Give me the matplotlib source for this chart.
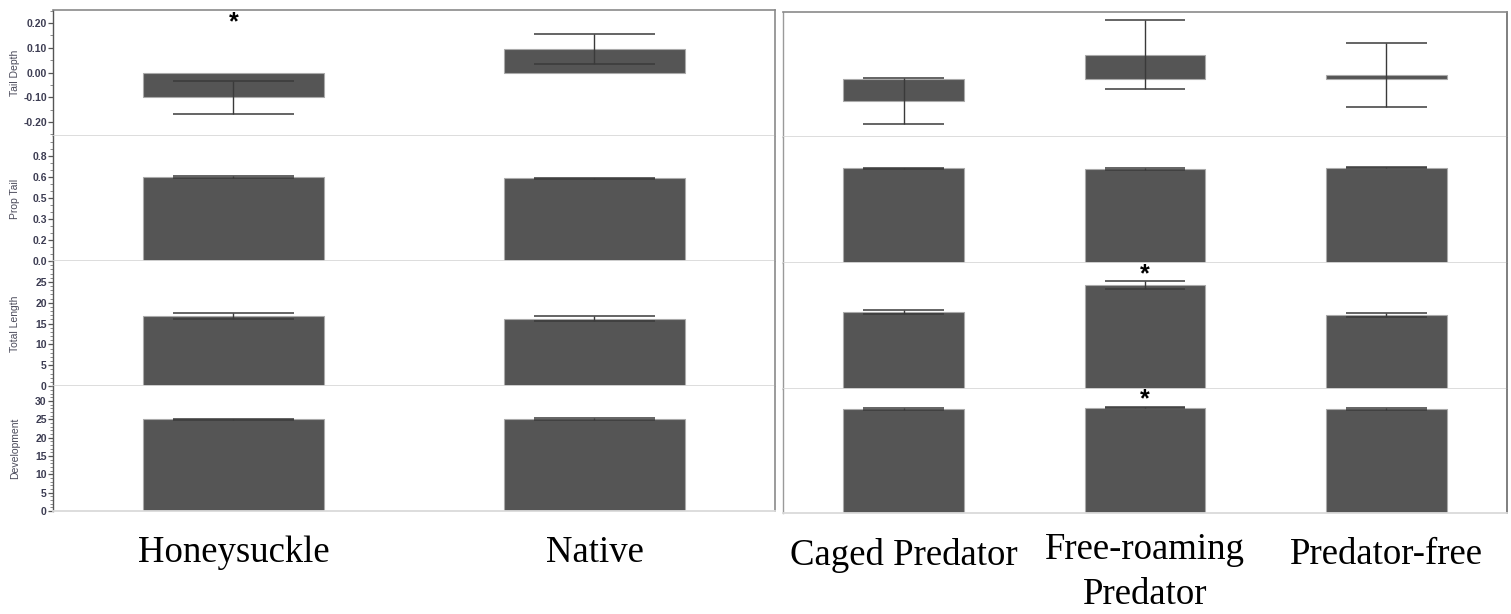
import matplotlib
matplotlib.use("Agg")
import matplotlib.pyplot as plt
from matplotlib.ticker import FixedLocator, MultipleLocator, FormatStrFormatter

# habitat comparison (left block)
habitat = ["Honeysuckle", "Native"]
habitat_tail_depth = [-0.10, 0.095]
habitat_tail_depth_err = [0.066, 0.06]
habitat_prop_tail = [0.601, 0.593]
habitat_prop_tail_err = [0.004, 0.004]
habitat_total_length = [16.9, 16.2]
habitat_total_length_err = [0.7, 0.6]
habitat_development = [25.0, 25.1]
habitat_development_err = [0.15, 0.15]

# predator treatment comparison (right block)
predator = ["Caged Predator", "Free-roaming\nPredator", "Predator-free"]
predator_tail_depth = [-0.09, 0.097, 0.015]
predator_tail_depth_err = [0.095, 0.14, 0.13]
predator_prop_tail = [0.680, 0.676, 0.685]
predator_prop_tail_err = [0.004, 0.004, 0.004]
predator_total_length = [18.3, 24.7, 17.6]
predator_total_length_err = [0.5, 1.0, 0.4]
predator_development = [28.6, 29.0, 28.6]
predator_development_err = [0.15, 0.15, 0.15]

row_names = ["Tail Depth", "Prop Tail", "Total Length", "Development"]

# significance stars: (block, row, category index, y)
stars = [("habitat", 0, 0, 0.204), ("predator", 2, 1, 27.4), ("predator", 3, 1, 31.4)]

BAR = "#555555"
ERR = "#3a3a3a"
FRAME = "#8a8a8a"
SEP = "#dadada"
TICKC = "#3c3c52"

W, H = 1511, 614
fig = plt.figure(figsize=(W / 100, H / 100), dpi=100)


def px_axes(x0, y0, x1, y1):
    return fig.add_axes([x0 / W, 1 - y1 / H, (x1 - x0) / W, (y1 - y0) / H])


def draw_row(ax, means, errs, ncat):
    xs = list(range(ncat))
    ax.bar(xs, means, width=0.5, color=BAR, edgecolor="#aaaaaa", linewidth=0.8, zorder=2)
    for x, m, e in zip(xs, means, errs):
        ax.vlines(x, m - e, m + e, color=ERR, lw=1.0, zorder=3)
        ax.hlines([m - e, m + e], x - 1 / 6, x + 1 / 6, color=ERR, lw=1.1, zorder=3)
    ax.set_xlim(-0.5, ncat - 0.5)
    ax.set_xticks([])
    for s in ax.spines.values():
        s.set_color(FRAME)
        s.set_linewidth(1.2)
    ax.spines["bottom"].set_color(SEP)
    ax.spines["bottom"].set_linewidth(1.3)


def category_labels(ax, names):
    # single-line names sit a little lower than the two-line one
    for x, name in enumerate(names):
        two_lines = "\n" in name
        ax.annotate(name, (x, 0), xycoords=("data", "axes fraction"),
                    xytext=(0, -14 if two_lines else -18), textcoords="offset points",
                    ha="center", va="top", family="Liberation Serif", fontsize=26.5,
                    linespacing=1.4)


habitat_rows = [
    (habitat_tail_depth, habitat_tail_depth_err, (-0.257, 0.253)),
    (habitat_prop_tail, habitat_prop_tail_err, (0, 0.894)),
    (habitat_total_length, habitat_total_length_err, (0, 30.0)),
    (habitat_development, habitat_development_err, (0, 34.1)),
]
predator_rows = [
    (predator_tail_depth, predator_tail_depth_err, (-0.236, 0.271)),
    (predator_prop_tail, predator_prop_tail_err, (0, 0.906)),
    (predator_total_length, predator_total_length_err, (0, 30.0)),
    (predator_development, predator_development_err, (0, 34.1)),
]

left_edges = [10, 136, 261, 386, 511]
right_edges = [12, 137, 263, 389, 513]

left_axes = []
for i, (m, e, lim) in enumerate(habitat_rows):
    ax = px_axes(53, left_edges[i], 775, left_edges[i + 1])
    draw_row(ax, m, e, len(habitat))
    ax.set_ylim(*lim)
    ax.spines["left"].set_color("#555555")
    ax.spines["left"].set_linewidth(1.0)
    if i > 0:
        ax.spines["top"].set_visible(False)
    ax.tick_params(axis="y", length=3.5, width=0.9, color="#555555", pad=1)
    ax.tick_params(axis="y", which="minor", length=2, width=0.6, color="#777777")
    ax.set_ylabel(row_names[i], fontsize=7.5, color="#4a4a5a", family="Liberation Sans")
    ax.yaxis.set_label_coords(-0.046, 0.5)
    left_axes.append(ax)

# axis ticks per row
ax = left_axes[0]
ax.yaxis.set_major_locator(FixedLocator([-0.2, -0.1, 0.0, 0.1, 0.2]))
ax.yaxis.set_major_formatter(FormatStrFormatter("%.2f"))
ax.yaxis.set_minor_locator(MultipleLocator(0.05))
ax = left_axes[1]
ax.yaxis.set_major_locator(FixedLocator([0, 0.15, 0.3, 0.45, 0.6, 0.75]))
ax.set_yticklabels(["0.0", "0.2", "0.3", "0.5", "0.6", "0.8"])
ax.yaxis.set_minor_locator(MultipleLocator(0.05))
ax = left_axes[2]
ax.yaxis.set_major_locator(FixedLocator([0, 5, 10, 15, 20, 25]))
ax.yaxis.set_minor_locator(MultipleLocator(1))
ax = left_axes[3]
ax.yaxis.set_major_locator(FixedLocator([0, 5, 10, 15, 20, 25, 30]))
ax.yaxis.set_minor_locator(MultipleLocator(1))
for ax in left_axes:
    for t in ax.get_yticklabels():
        t.set_family("Liberation Sans")
        t.set_fontsize(7.5)
        t.set_fontweight("bold")
        t.set_color(TICKC)

right_axes = []
for i, (m, e, lim) in enumerate(predator_rows):
    ax = px_axes(783, right_edges[i], 1507, right_edges[i + 1])
    draw_row(ax, m, e, len(predator))
    ax.set_ylim(*lim)
    ax.set_yticks([])
    ax.spines["left"].set_color("#9a9a9a")
    ax.spines["left"].set_linewidth(1.0)
    ax.spines["right"].set_color("#6a6a6a")
    if i > 0:
        ax.spines["top"].set_visible(False)
    right_axes.append(ax)

category_labels(left_axes[-1], habitat)
category_labels(right_axes[-1], predator)

for block, row, cat, y in stars:
    ax = (left_axes if block == "habitat" else right_axes)[row]
    ax.text(cat, y, "*", ha="center", va="center", fontsize=18, fontweight="bold",
            family="Liberation Sans", color="black", zorder=4)

fig.savefig("out.png", dpi=100)
